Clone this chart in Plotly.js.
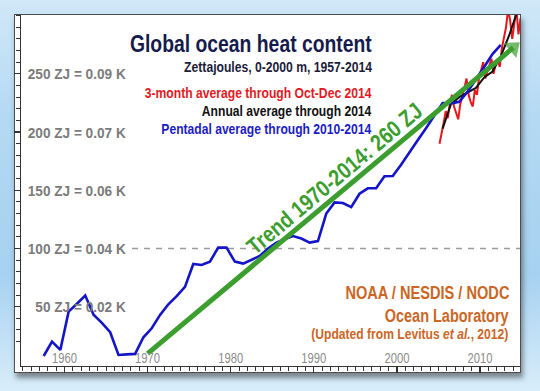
<!DOCTYPE html>
<html><head><meta charset="utf-8">
<script src="https://cdn.plot.ly/plotly-3.0.1.min.js"></script>
<style>
html,body{margin:0;padding:0;width:540px;height:391px;overflow:hidden;}
body{background:linear-gradient(180deg,#d0e8f8 0%,#b4d9f3 30%,#a6d1f0 70%,#d8edfa 100%);position:relative;}
#frame{position:absolute;left:14px;top:14px;width:507px;height:359px;background:#fff;border:1.5px solid #4d4d4d;box-sizing:border-box;box-shadow:2px 5px 5px rgba(40,40,40,0.5);}
#chart{position:absolute;left:0;top:0;width:540px;height:391px;}
</style></head><body>
<div id="frame"></div><div id="chart"></div>
<script>
// Pentadal average (plotted at mid-year of centre year)
const pentadYears = [1957.5,1958.5,1959.5,1960.5,1961.5,1962.5,1963.5,1964.5,1965.5,1966.5,1967.5,1968.5,1969.5,1970.5,1971.5,1972.5,1973.5,1974.5,1975.5,1976.5,1977.5,1978.5,1979.5,1980.5,1981.5,1982.5,1983.5,1984.5,1985.5,1986.5,1987.5,1988.5,1989.5,1990.5,1991.5,1992.5,1993.5,1994.5,1995.5,1996.5,1997.5,1998.5,1999.5,2000.5,2001.5,2002.5,2003.5,2004.5,2005.5,2006.5,2007.5,2008.5,2009.5,2010.5,2011.5,2012.5];
const pentadValues = [7.6,19.9,12.8,45.7,52.5,59.5,43,36,28,8.5,9,9.4,23.7,31.4,42.9,52,59,67,86.7,85.8,88.7,100.7,100.7,88.7,87,90,93.5,100,105,108,110.7,108.5,105,106.4,130,139.6,139,135.5,147,151.7,151.7,162,162.3,172,182,193,203.3,214,225,224.7,226,234.7,244.8,256,267,275];
// Annual average
const annualYears = [2005.5,2006.5,2007.5,2008.5,2009.5,2010.5,2011.5,2012.5,2013.5,2014.5];
const annualValues = [203,224,230,234,238,247,252,265,283,304];
// 3-month average
const quarterYears = [2005.125,2005.375,2005.625,2005.875,2006.125,2006.375,2006.625,2006.875,2007.125,2007.375,2007.625,2007.875,2008.125,2008.375,2008.625,2008.875,2009.125,2009.375,2009.625,2009.875,2010.125,2010.375,2010.625,2010.875,2011.125,2011.375,2011.625,2011.875,2012.125,2012.375,2012.625,2012.875,2013.125,2013.375,2013.625,2013.875,2014.125,2014.375,2014.625,2014.875];
const quarterValues = [190,198,208,218,212,225,232,222,216,211,224,230,238,246,232,226,222,236,232,246,252,260,246,252,256,263,250,258,262,256,272,280,290,305,296,280,292,306,284,298];
// Linear trend 1970-2014
const trendYears = [1970, 2014];
const trendValues = [9.7, 272.5];
// Axis ticks
const xTickVals = [1960,1970,1980,1990,2000,2010];
const xTickText = ['1960','1970','1980','1990','2000','2010'];
const yTickVals = [50,100,150,200,250];
const yTickText = ['50 ZJ = 0.02 K','100 ZJ = 0.04 K','150 ZJ = 0.06 K','200 ZJ = 0.07 K','250 ZJ = 0.09 K'];
// Text
const titleLines = ['Global ocean heat content','Zettajoules, 0-2000 m, 1957-2014','3-month average through Oct-Dec 2014','Annual average through 2014','Pentadal average through 2010-2014'];
const creditLines = ['NOAA / NESDIS / NODC','Ocean Laboratory','(Updated from Levitus <i>et al.</i>, 2012)'];
const trendLabel = 'Trend 1970-2014: 260 ZJ';

// styling / placement (pixels); w = rendered width of the narrow face in the original
const titleStyle = [
  {color:'#161b4c', size:23.5, cx:251, y:44, w:242},
  {color:'#1c1c38', size:14.5, cx:277.8, y:67, w:188},
  {color:'#e3191f', size:14.8, cx:258.3, y:93, w:227},
  {color:'#111111', size:14.8, cx:287.3, y:111, w:169.5},
  {color:'#1c1cc4', size:14.8, cx:266.9, y:129, w:210}
];
const creditStyle = [
  {size:17.7, cx:427, y:293, w:164},
  {size:17.7, cx:447, y:316, w:124},
  {size:14.6, cx:410.3, y:334, w:197}
];
const FONT = '"Liberation Sans", Arial, sans-serif';
const W = 540, H = 391, ML = 21, MR = 20, MT = 15, MB = 25;
const pw = W - ML - MR, ph = H - MT - MB;
const px = x => (x - ML) / pw;
const py = y => 1 - (y - MT) / ph;

const traces = [
  {x: quarterYears, y: quarterValues, mode:'lines', line:{color:'#e8161c', width:2}, hoverinfo:'skip'},
  {x: annualYears, y: annualValues, mode:'lines', line:{color:'#111111', width:2}, hoverinfo:'skip'},
  {x: pentadYears, y: pentadValues, mode:'lines', line:{color:'#1414c8', width:2.6}, hoverinfo:'skip'},
  {x: trendYears, y: trendValues, mode:'lines+markers', cliponaxis:false,
   line:{color:'#3c9e2e', width:5},
   marker:{symbol:'triangle-up', size:[0,17], color:'#3c9e2e', angleref:'previous', line:{width:0}},
   hoverinfo:'skip'}
];

const annotations = [];
const targetWidths = [];
titleLines.forEach((t,i) => { const s = titleStyle[i];
  annotations.push({xref:'paper', yref:'paper', x:px(s.cx), y:py(s.y), xanchor:'center', yanchor:'middle', showarrow:false, text:t, font:{family:FONT, size:s.size, weight:'bold', color:s.color}});
  targetWidths.push(s.w); });
creditLines.forEach((t,i) => { const s = creditStyle[i];
  annotations.push({xref:'paper', yref:'paper', x:px(s.cx), y:py(s.y), xanchor:'center', yanchor:'middle', showarrow:false, text:t, font:{family:FONT, size:s.size, weight:'bold', color:'#cc6624'}});
  targetWidths.push(s.w); });
annotations.push({xref:'x', yref:'y', x:1992.55, y:160.6, showarrow:false, textangle:-40, text:trendLabel, font:{family:FONT, size:23, weight:'bold', color:'#3c9e2e'}});
targetWidths.push(221);

const layout = {
  width:W, height:H,
  margin:{l:ML, r:MR, t:MT, b:MB, pad:0},
  paper_bgcolor:'rgba(0,0,0,0)', plot_bgcolor:'rgba(0,0,0,0)',
  showlegend:false,
  xaxis:{range:[1954.77, 2014.81], showgrid:false, zeroline:false, showline:true, linecolor:'#333', linewidth:1.2,
    tickmode:'array', tickvals:xTickVals, ticktext:xTickText, ticks:'outside', ticklen:6, tickwidth:1.2, tickcolor:'#333',
    ticklabelposition:'inside', tickfont:{family:FONT, size:14, color:'#8c8c8c'},
    minor:{tickmode:'linear', tick0:1950, dtick:1, ticks:'outside', ticklen:4, tickwidth:1, tickcolor:'#333'}},
  yaxis:{range:[-1, 300.6], showgrid:false, zeroline:false, showline:true, linecolor:'#333', linewidth:1.2,
    tickmode:'array', tickvals:yTickVals, ticktext:yTickText, ticks:'outside', ticklen:6, tickwidth:1.2, tickcolor:'#333',
    ticklabelposition:'outside', ticklabelstandoff:-115, tickfont:{family:FONT, size:15.5, weight:'bold', color:'#7b7b7b'},
    minor:{tickmode:'linear', tick0:0, dtick:10, ticks:'outside', ticklen:4, tickwidth:1, tickcolor:'#333'}},
  shapes:[{type:'line', xref:'paper', yref:'y', x0:px(132), x1:1, y0:100, y1:100, line:{color:'#9a9a9a', width:1.5, dash:'6px,6px'}, layer:'below'}],
  annotations: annotations
};

// horizontally condense a text element about its anchor point (imitates the narrow typeface)
function condense(t, s) {
  const x0 = parseFloat(t.getAttribute('x')) || 0;
  const prev = t.getAttribute('transform') || '';
  t.setAttribute('transform', prev + ' translate(' + x0 + ',0) scale(' + s + ',1) translate(' + (-x0) + ',0)');
}
Plotly.newPlot('chart', traces, layout, {staticPlot:true, displayModeBar:false}).then(gd => {
  targetWidths.forEach((w, i) => {
    const t = gd.querySelector('g.annotation[data-index="' + i + '"] text.annotation-text');
    if (t) condense(t, w / t.getComputedTextLength());
  });
  gd.querySelectorAll('g.xtick text').forEach(t => condense(t, 25 / t.getComputedTextLength()));
  const yts = gd.querySelectorAll('g.ytick text');
  let ref = null;
  yts.forEach(t => { if (t.textContent === yTickText[4]) ref = t; });
  const ys = ref ? 98 / ref.getComputedTextLength() : 0.85;
  yts.forEach(t => condense(t, ys));
});
</script>
</body></html>
